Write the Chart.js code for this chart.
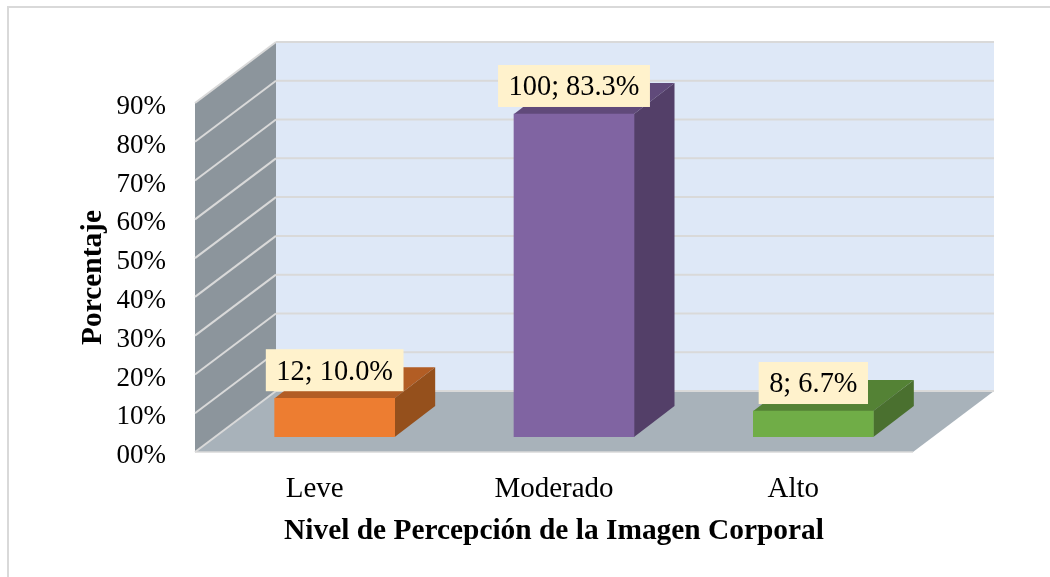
<!DOCTYPE html>
<html>
<head>
<meta charset="utf-8">
<title>Nivel de Percepción de la Imagen Corporal</title>
<script src="https://cdn.jsdelivr.net/npm/chart.js@4"></script>
<style>
  body { margin: 0; background: #fff; }
  canvas { display: block; }
</style>
</head>
<body>
<canvas id="imagenChart" width="1050" height="577"></canvas>
<script>
const categories = ['Leve', 'Moderado', 'Alto'];
const counts = [12, 100, 8];
const percents = [10.0, 83.3, 6.7];
const tickLabels = ['00%', '10%', '20%', '30%', '40%', '50%', '60%', '70%', '80%', '90%'];

const frontColors = ['#ED7D31', '#8064A2', '#70AD47'];
const topColors = ['#B25D24', '#604A7A', '#548235'];
const sideColors = ['#95501C', '#533F68', '#4A702F'];

const serif = '"Liberation Serif", "Times New Roman", serif';

// how far the back wall sits behind the axis plane
const wallX = 81;
const wallY = -61;
// bars stand in the middle of the floor
const barShiftX = 20;
const barShiftY = -15;
const barDepthX = 40.5;
const barDepthY = -31;

function fillPoly(ctx, points, color) {
    ctx.fillStyle = color;
    ctx.beginPath();
    ctx.moveTo(points[0][0], points[0][1]);
    points.slice(1).forEach(p => ctx.lineTo(p[0], p[1]));
    ctx.closePath();
    ctx.fill();
}

function strokeLine(ctx, x1, y1, x2, y2, color, width) {
    ctx.strokeStyle = color;
    ctx.lineWidth = width;
    ctx.beginPath();
    ctx.moveTo(x1, y1);
    ctx.lineTo(x2, y2);
    ctx.stroke();
}

// Frame, walls and floor
const wallsPlugin = {
    id: 'walls',
    beforeDatasetsDraw(chart) {
        const ctx = chart.ctx;
        const { left, right, top, bottom } = chart.chartArea;
        ctx.save();

        strokeLine(ctx, 8, 7, 8, 577, '#D9D9D9', 2);
        strokeLine(ctx, 7, 7, 1050, 7, '#D9D9D9', 2);

        fillPoly(ctx, [[left + wallX, top + wallY], [right + wallX, top + wallY], [right + wallX, bottom + wallY], [left + wallX, bottom + wallY]], '#DEE8F7');
        fillPoly(ctx, [[left, top], [left + wallX, top + wallY], [left + wallX, bottom + wallY], [left, bottom]], '#8C959C');
        fillPoly(ctx, [[left, bottom], [left + wallX, bottom + wallY], [right + wallX, bottom + wallY], [right, bottom]], '#A8B2BA');

        const yScale = chart.scales.y;
        tickLabels.forEach((label, i) => {
            const y = yScale.getPixelForValue(i * 10);
            strokeLine(ctx, left, y, left + wallX, y + wallY, '#D9D9D9', 2);
            strokeLine(ctx, left + wallX, y + wallY, right + wallX, y + wallY, '#D9D9D9', 2);
        });
        strokeLine(ctx, left, bottom, right, bottom, '#D9D9D9', 1.5);
        ctx.restore();

        // bar sides go under the fronts that the library draws
        ctx.save();
        ctx.translate(barShiftX, barShiftY);
        chart.getDatasetMeta(0).data.forEach((bar, i) => {
            const x1 = bar.x - bar.width / 2;
            const x2 = bar.x + bar.width / 2;
            fillPoly(ctx, [[x1, bar.y], [x1 + barDepthX, bar.y + barDepthY], [x2 + barDepthX, bar.y + barDepthY], [x2, bar.y]], topColors[i]);
            fillPoly(ctx, [[x2, bar.y], [x2 + barDepthX, bar.y + barDepthY], [x2 + barDepthX, bar.base + barDepthY], [x2, bar.base]], sideColors[i]);
        });
    },
    afterDatasetsDraw(chart) {
        chart.ctx.restore();
    }
};

// Value labels: "count; percent"
const boxLabelsPlugin = {
    id: 'boxLabels',
    afterDatasetsDraw(chart) {
        const ctx = chart.ctx;
        ctx.save();
        ctx.font = '28.4px ' + serif;
        ctx.textAlign = 'center';
        ctx.textBaseline = 'middle';
        chart.getDatasetMeta(0).data.forEach((bar, i) => {
            const text = counts[i] + '; ' + percents[i].toFixed(1) + '%';
            const boxW = ctx.measureText(text).width + 21;
            const cx = bar.x + barShiftX;
            const cy = bar.y + barShiftY - 28;
            ctx.fillStyle = '#FFF2CC';
            ctx.fillRect(cx - boxW / 2, cy - 21, boxW, 42);
            ctx.fillStyle = '#000';
            ctx.fillText(text, cx, cy + 2);
        });
        ctx.restore();
    }
};

const ctx = document.getElementById('imagenChart').getContext('2d');
const imagenChart = new Chart(ctx, {
    type: 'bar',
    data: {
        labels: categories,
        datasets: [{
            data: percents,
            backgroundColor: frontColors,
            barThickness: 120
        }]
    },
    options: {
        responsive: false,
        animation: false,
        layout: { padding: { left: 63, right: 137, top: 103, bottom: 0 } },
        plugins: {
            legend: { display: false },
            tooltip: { enabled: false }
        },
        scales: {
            x: {
                grid: { display: false },
                border: { display: false },
                ticks: {
                    color: '#000',
                    padding: 12,
                    maxRotation: 0,
                    font: { family: serif, size: 29 }
                },
                title: {
                    display: true,
                    text: 'Nivel de Percepción de la Imagen Corporal',
                    color: '#000',
                    font: { family: serif, size: 29.4, weight: 'bold' },
                    padding: { top: 0, bottom: 28 }
                },
                afterFit(scale) { scale.height = 125; }
            },
            y: {
                min: 0,
                max: 90,
                grid: { display: false },
                border: { display: false },
                ticks: {
                    stepSize: 10,
                    color: '#000',
                    padding: 21,
                    labelOffset: 4,
                    font: { family: serif, size: 27 },
                    callback: (value, i) => tickLabels[i]
                },
                title: {
                    display: true,
                    text: 'Porcentaje',
                    color: '#000',
                    font: { family: serif, size: 29.4, weight: 'bold' },
                    padding: { top: 13, bottom: 0 }
                },
                afterFit(scale) { scale.width = 132; }
            }
        }
    },
    plugins: [wallsPlugin, boxLabelsPlugin]
});
</script>
</body>
</html>
